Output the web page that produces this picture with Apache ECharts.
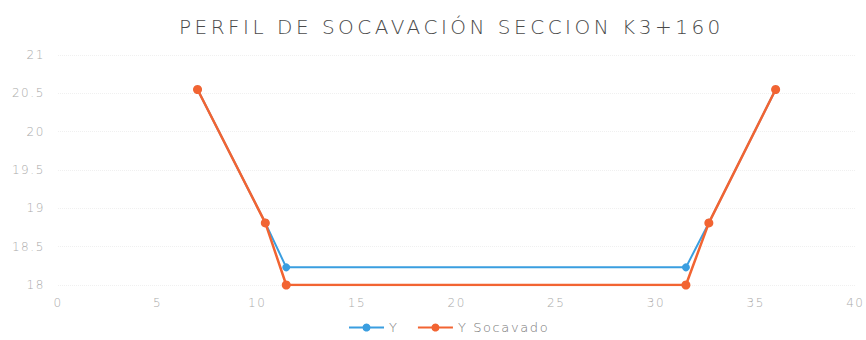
<!DOCTYPE html>
<html>
<head>
<meta charset="utf-8">
<script src="https://cdn.jsdelivr.net/npm/echarts@6/dist/echarts.min.js"></script>
<style>
  html, body { margin: 0; padding: 0; background: #fff; }
  #chart { width: 866px; height: 340px; }
</style>
</head>
<body>
<div id="chart"></div>
<script>
// Cross-section profile: original bed (Y) and scoured bed (Y Socavado)
const titleText = 'PERFIL DE SOCAVACIÓN SECCION K3+160';
const seriesNames = ['Y', 'Y Socavado'];
const abscisa = [7.0, 10.4, 11.45, 31.5, 32.65, 36.0];
const cotaY = [20.55, 18.81, 18.23, 18.23, 18.81, 20.55];
const cotaSocavado = [20.55, 18.81, 18.0, 18.0, 18.81, 20.55];
const colors = ['#3a9ee0', '#f26432'];

const pairs = (xs, ys) => xs.map((x, i) => [x, ys[i]]);
const font = 'DejaVu Sans';

const chart = echarts.init(document.getElementById('chart'), null, { renderer: 'svg' });
chart.setOption({
  animation: false,
  color: colors,
  title: {
    text: titleText,
    left: 174,
    top: 12,
    textStyle: { fontFamily: font, fontSize: 20, fontWeight: 200, color: '#4a4a4a' }
  },
  legend: {
    bottom: 1,
    left: 343,
    itemWidth: 35,
    itemHeight: 10,
    itemGap: 20,
    textStyle: { fontFamily: font, fontSize: 13, fontWeight: 200, color: '#777' },
    data: seriesNames
  },
  grid: { left: 58, right: 8, top: 55, bottom: 55 },
  xAxis: {
    type: 'value',
    min: 0, max: 40, interval: 5,
    axisLine: { show: false },
    axisTick: { show: false },
    axisLabel: { color: '#aaa', fontFamily: font, fontSize: 12, fontWeight: 200, margin: 12 },
    splitLine: { show: false }
  },
  yAxis: {
    type: 'value',
    min: 18, max: 21, interval: 0.5,
    axisLine: { show: false },
    axisTick: { show: false },
    axisLabel: { color: '#aaa', fontFamily: font, fontSize: 12, fontWeight: 200, margin: 13 },
    splitLine: { lineStyle: { color: '#f0f0f0', type: 'dotted' } }
  },
  series: [
    {
      name: seriesNames[0], type: 'line', data: pairs(abscisa, cotaY),
      symbol: 'circle', symbolSize: 8, lineStyle: { width: 2 }, z: 2
    },
    {
      name: seriesNames[1], type: 'line', data: pairs(abscisa, cotaSocavado),
      symbol: 'circle', symbolSize: 9, lineStyle: { width: 2.5 }, z: 3
    }
  ]
});

// Wide tracking on all labels: larger for the title, lighter for the rest
function spaceLetters() {
  document.querySelectorAll('#chart svg text').forEach(t => {
    const size = parseFloat(getComputedStyle(t).fontSize) || 12;
    t.style.letterSpacing = size > 16 ? '3.5px' : '1.6px';
  });
}
spaceLetters();
chart.on('finished', spaceLetters);
</script>
</body>
</html>
